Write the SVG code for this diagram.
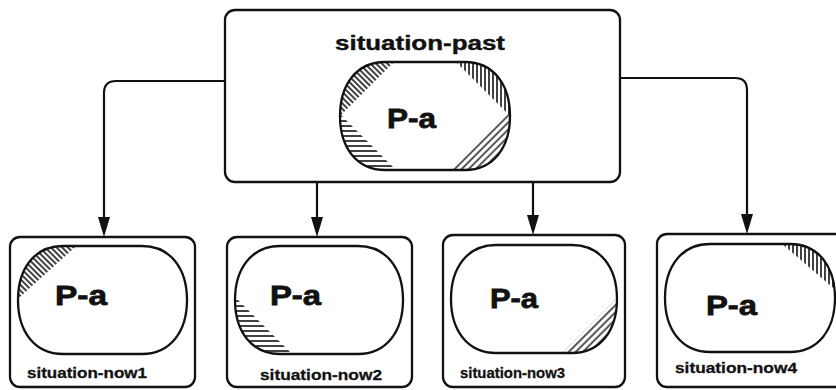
<svg xmlns="http://www.w3.org/2000/svg" width="836" height="390" viewBox="0 0 836 390">
<style>
.box{fill:none;stroke:#111;stroke-width:2.3}
.con{fill:none;stroke:#111;stroke-width:2.2}
.pa{font-family:"Liberation Sans",Arial,sans-serif;font-weight:bold;font-size:28px;fill:#111;stroke:#111;stroke-width:0.8}
.lbl{font-family:"Liberation Sans",Arial,sans-serif;font-weight:bold;font-size:15px;fill:#111;stroke:#111;stroke-width:0.3}
.ttl{font-family:"Liberation Sans",Arial,sans-serif;font-weight:bold;font-size:21px;fill:#111;stroke:#111;stroke-width:0.4}
</style>
<defs>
<pattern id="hv" width="4" height="4" patternUnits="userSpaceOnUse"><line x1="1" y1="0" x2="1" y2="4" stroke="#111" stroke-width="1.6"/></pattern>
<pattern id="hh" width="5" height="5" patternUnits="userSpaceOnUse"><line x1="0" y1="1" x2="5" y2="1" stroke="#111" stroke-width="1.6"/></pattern>
<pattern id="hbs" width="4" height="4" patternUnits="userSpaceOnUse" patternTransform="rotate(-45)"><line x1="1" y1="0" x2="1" y2="4" stroke="#111" stroke-width="1.6"/></pattern>
<pattern id="hfs" width="5" height="5" patternUnits="userSpaceOnUse" patternTransform="rotate(45)"><line x1="1" y1="0" x2="1" y2="5" stroke="#111" stroke-width="1.4"/></pattern>
<path id="s0" d="M385,62 H465 C493,62 510,84 510,116 C510,148 493,170 465,170 H385 C357,170 340,148 340,116 C340,84 357,62 385,62 Z"/>
<path id="s1" d="M63,246 H142 C170,246 187,268 187,300 C187,332 170,354 142,354 H63 C35,354 18,332 18,300 C18,268 35,246 63,246 Z"/>
<path id="s2" d="M280,246 H358 C386,246 403,268 403,300 C403,332 386,354 358,354 H280 C252,354 235,332 235,300 C235,268 252,246 280,246 Z"/>
<path id="s3" d="M496,245 H572 C600,245 617,267 617,299 C617,331 600,353 572,353 H496 C468,353 451,331 451,299 C451,267 468,245 496,245 Z"/>
<path id="s4" d="M710,244 H790 C818,244 835,266 835,298 C835,330 818,352 790,352 H710 C682,352 665,330 665,298 C665,266 682,244 710,244 Z"/>
<clipPath id="c0"><use href="#s0"/></clipPath>
<clipPath id="c1"><use href="#s1"/></clipPath>
<clipPath id="c2"><use href="#s2"/></clipPath>
<clipPath id="c3"><use href="#s3"/></clipPath>
<clipPath id="c4"><use href="#s4"/></clipPath>
</defs>
<rect width="836" height="390" fill="#fff"/>
<g id="connectors">
<path class="con" d="M225,81 H116 Q104,81 104,93 V224"/>
<polygon points="98,217 110,217 104,237" fill="#111"/>
<path class="con" d="M317,182 V224"/>
<polygon points="311,217 323,217 317,237" fill="#111"/>
<path class="con" d="M533,182 V222"/>
<polygon points="527,215 539,215 533,235" fill="#111"/>
<path class="con" d="M620,78 H735 Q747,78 747,90 V221"/>
<polygon points="741,214 753,214 747,234" fill="#111"/>
</g>
<g id="situation-past">
<rect class="box" x="225" y="10" width="395" height="172" rx="10"/>
<text class="ttl" x="420" y="50" text-anchor="middle" textLength="170" lengthAdjust="spacingAndGlyphs">situation-past</text>
<g clip-path="url(#c0)">
<polygon points="330,126 406,50 330,50" fill="url(#hbs)"/>
<polygon points="444,50 520,126 520,50" fill="url(#hv)"/>
<polygon points="330,104 404,178 330,178" fill="url(#hh)"/>
<polygon points="446,176 520,102 520,176" fill="url(#hfs)"/>
</g>
<use href="#s0" class="box"/>
<text class="pa" x="387" y="128" textLength="49" lengthAdjust="spacingAndGlyphs">P-a</text>
</g>
<g id="situation-now1">
<rect class="box" x="10" y="237" width="185" height="150" rx="10"/>
<g clip-path="url(#c1)"><polygon points="10,306 84,239 10,239" fill="url(#hbs)"/></g>
<use href="#s1" class="box"/>
<text class="pa" x="55" y="305" textLength="52" lengthAdjust="spacingAndGlyphs">P-a</text>
<text class="lbl" x="27" y="378" textLength="120" lengthAdjust="spacingAndGlyphs">situation-now1</text>
</g>
<g id="situation-now2">
<rect class="box" x="227" y="237" width="185" height="150" rx="10"/>
<g clip-path="url(#c2)"><polygon points="225,287 299,361 225,361" fill="url(#hh)"/></g>
<use href="#s2" class="box"/>
<text class="pa" x="270" y="305" textLength="51" lengthAdjust="spacingAndGlyphs">P-a</text>
<text class="lbl" x="260" y="380" textLength="122" lengthAdjust="spacingAndGlyphs">situation-now2</text>
</g>
<g id="situation-now3">
<rect class="box" x="443" y="235" width="182" height="152" rx="10"/>
<g clip-path="url(#c3)"><polygon points="553,362 627,288 627,362" fill="url(#hfs)"/></g>
<use href="#s3" class="box"/>
<text class="pa" x="490" y="308" textLength="48" lengthAdjust="spacingAndGlyphs">P-a</text>
<text class="lbl" x="460" y="378" textLength="105" lengthAdjust="spacingAndGlyphs">situation-now3</text>
</g>
<g id="situation-now4">
<rect class="box" x="657" y="234" width="190" height="153" rx="10"/>
<g clip-path="url(#c4)"><polygon points="773,236 845,298 845,236" fill="url(#hv)"/></g>
<use href="#s4" class="box"/>
<text class="pa" x="706" y="315" textLength="51" lengthAdjust="spacingAndGlyphs">P-a</text>
<text class="lbl" x="675" y="373" textLength="122" lengthAdjust="spacingAndGlyphs">situation-now4</text>
</g>
</svg>
